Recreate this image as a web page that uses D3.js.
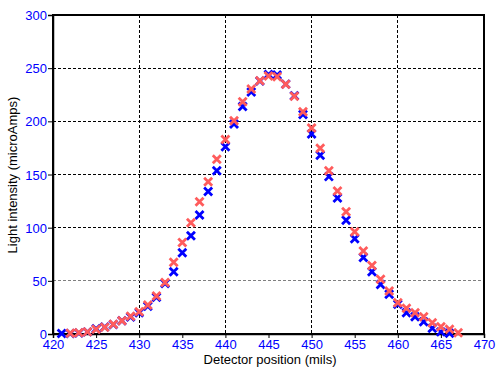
<!DOCTYPE html>
<html><head><meta charset="utf-8">
<script src="https://cdn.jsdelivr.net/npm/d3@7"></script>
<style>body{margin:0;background:#fff}text{font-family:"Liberation Sans",Arial,sans-serif}</style>
</head><body><svg id="c" width="502" height="377"></svg>
<script>
const blueX = d3.range(421, 467);
const blueY = [0.5,0.5,1,2,5,6.5,9,12.5,16,20,26,34.5,47.5,58.5,76.5,92.5,112,134,153.5,176,197.5,214,227.5,238,244,243.5,235,224,206.5,188,168,148,128,107,89.5,72,58.5,46.5,37.3,28,20,16.3,11.6,5.3,2,0.6];
const redX = d3.range(422, 468);
const redY = [0.6,1.2,2,4.4,6.3,9.1,12.5,16.6,21,27.3,35.7,48.5,67.4,86,104.7,124.4,143.2,164.3,183,200.6,218.5,230.5,238.2,242.6,242,234.8,223.5,209,193.7,174.6,153.6,134.5,115,96.2,78,64.5,51.4,40.4,29.4,24.2,20,16.3,10.6,6.9,4.4,1.2];
const xTicks = [420,425,430,435,440,445,450,455,460,465,470];
const yTicks = [0,50,100,150,200,250,300];
const xGrid = [430,440,450,460];
const yGrid = [50,100,150,200,250];

const svg = d3.select("#c");
const L=53, R=484, T=15, B=334;
const x = d3.scaleLinear().domain([420,470]).range([L,R]);
const y = d3.scaleLinear().domain([0,300]).range([B,T]);

// grid
svg.append("g").selectAll("line").data(xGrid).join("line")
  .attr("x1",d=>x(d)).attr("x2",d=>x(d)).attr("y1",T).attr("y2",B)
  .attr("stroke","#000").attr("stroke-dasharray","3,2").attr("shape-rendering","crispEdges");
svg.append("g").selectAll("line").data(yGrid).join("line")
  .attr("x1",L).attr("x2",R).attr("y1",d=>y(d)).attr("y2",d=>y(d))
  .attr("stroke",d=>d===50?"#808080":"#000").attr("stroke-dasharray","3,2").attr("shape-rendering","crispEdges");

// frame
svg.append("rect").attr("x",L).attr("y",T).attr("width",R-L).attr("height",B-T)
  .attr("fill","none").attr("stroke","#000").attr("stroke-width",1.5).attr("shape-rendering","crispEdges");

// axes
const xa = svg.append("g").attr("transform",`translate(0,${B})`)
  .call(d3.axisBottom(x).tickValues(xTicks).tickSize(4).tickPadding(2).tickFormat(d3.format("d")));
const ya = svg.append("g").attr("transform",`translate(${L},0)`)
  .call(d3.axisLeft(y).tickValues(yTicks).tickSize(5).tickPadding(1).tickFormat(d3.format("d")));
[xa,ya].forEach(g=>{
  g.select(".domain").attr("stroke","#000").attr("stroke-width",1.5);
  g.selectAll(".tick line").attr("stroke","#000");
  g.selectAll(".tick text").attr("fill","#0000ff").style("font-size","13px").style("font-family","'Liberation Sans',Arial,sans-serif");
});
xa.selectAll(".tick text").attr("dy","0.71em");
ya.selectAll(".tick text").attr("dy","0.35em");

// titles
svg.append("text").attr("x",270).attr("y",364).attr("text-anchor","middle")
  .style("font-size","13px").attr("fill","#000").text("Detector position (mils)");
svg.append("text").attr("transform","translate(17,175) rotate(-90)").attr("text-anchor","middle")
  .style("font-size","13px").attr("fill","#000").text("Light intensity (microAmps)");

// markers
const cross = "M-4,-4L4,4M-4,4L4,-4";
function plot(xs, ys, color){
  svg.append("g").selectAll("path").data(xs.map((v,i)=>[v,ys[i]])).join("path")
    .attr("transform",d=>`translate(${x(d[0])},${y(d[1])})`)
    .attr("d",cross).attr("stroke",color).attr("stroke-width",2.8).attr("fill","none");
}
plot(blueX, blueY, "#0000ff");
plot(redX, redY, "#ff5c5c");
</script></body></html>
